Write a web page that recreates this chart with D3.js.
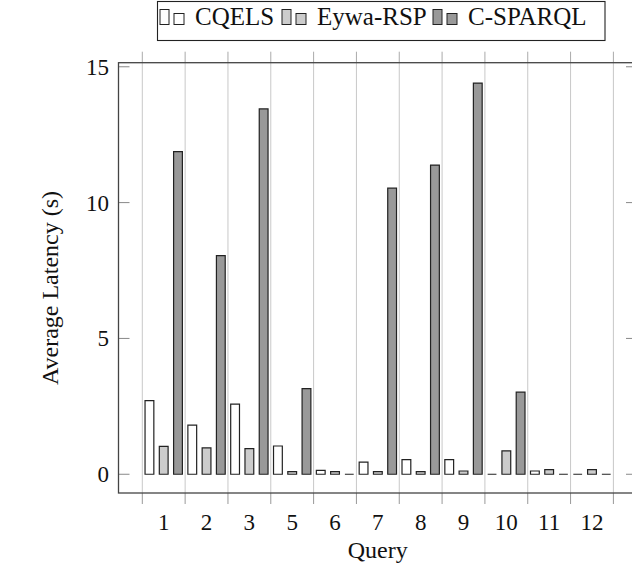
<!DOCTYPE html>
<html>
<head>
<meta charset="utf-8">
<script src="https://cdn.jsdelivr.net/npm/d3@7"></script>
<style>
  html, body { margin: 0; padding: 0; background: #fff; }
  svg { display: block; }
  text { font-family: "Liberation Serif", "Times New Roman", serif; fill: #111; }
</style>
</head>
<body>
<svg id="chart" width="632" height="571"></svg>
<script>
// Query identifiers along the x axis
const queries = ["1", "2", "3", "5", "6", "7", "8", "9", "10", "11", "12"];
// Average latency in seconds for each engine
const cqels   = [2.71, 1.81, 2.58, 1.04, 0.14, 0.45, 0.54, 0.54, 0.00, 0.12, 0.00];
const eywa    = [1.03, 0.97, 0.94, 0.10, 0.10, 0.10, 0.10, 0.12, 0.86, 0.17, 0.17];
const csparql = [11.88, 8.05, 13.45, 3.15, 0.00, 10.53, 11.38, 14.40, 3.02, 0.00, 0.00];
const seriesNames = ["CQELS", "Eywa-RSP", "C-SPARQL"];
const seriesFills = ["#ffffff", "#cccccc", "#999999"];
const yTicks = [0, 5, 10, 15];

const series = [cqels, eywa, csparql];

const svg = d3.select("#chart");

// plot frame
const frameLeft = 118.5, frameRight = 637, frameTop = 62.7, frameBottom = 493;

const x = d3.scaleBand()
  .domain(queries)
  .range([142.3, 613.4])
  .paddingInner(0)
  .paddingOuter(0);

const sub = d3.scaleBand()
  .domain(seriesNames)
  .range([-x.bandwidth() / 2, x.bandwidth() / 2])
  .paddingInner(0.3)
  .paddingOuter(0.15);

const y = d3.scaleLinear()
  .domain([-0.69, 15.15])
  .range([frameBottom, frameTop]);

// vertical grid lines at the group boundaries
const boundaries = queries.map(q => x(q)).concat([x(queries[queries.length - 1]) + x.bandwidth()]);

svg.append("g")
  .selectAll("line")
  .data(boundaries)
  .join("line")
  .attr("x1", d => d).attr("x2", d => d)
  .attr("y1", frameTop).attr("y2", frameBottom)
  .attr("stroke", "#c8c8c8")
  .attr("stroke-width", 1);

// outward ticks on top and bottom
svg.append("g")
  .selectAll("line")
  .data(boundaries)
  .join("line")
  .attr("x1", d => d).attr("x2", d => d)
  .attr("y1", frameBottom).attr("y2", frameBottom + 11)
  .attr("stroke", "#999")
  .attr("stroke-width", 1);
svg.append("g")
  .selectAll("line")
  .data(boundaries)
  .join("line")
  .attr("x1", d => d).attr("x2", d => d)
  .attr("y1", frameTop - 11).attr("y2", frameTop)
  .attr("stroke", "#aaa")
  .attr("stroke-width", 1);

// y ticks, pointing inward on both sides
const yt = svg.append("g");
yt.selectAll("line.l")
  .data(yTicks)
  .join("line")
  .attr("class", "l")
  .attr("x1", frameLeft).attr("x2", frameLeft + 11)
  .attr("y1", d => y(d)).attr("y2", d => y(d))
  .attr("stroke", "#888").attr("stroke-width", 1);
yt.selectAll("line.r")
  .data(yTicks)
  .join("line")
  .attr("class", "r")
  .attr("x1", frameRight - 11).attr("x2", frameRight)
  .attr("y1", d => y(d)).attr("y2", d => y(d))
  .attr("stroke", "#888").attr("stroke-width", 1);

// bars (drawn as closed paths so zero-height bars still show their outline)
const groups = svg.append("g")
  .selectAll("g")
  .data(queries)
  .join("g")
  .attr("transform", q => `translate(${x(q) + x.bandwidth() / 2},0)`);

groups.selectAll("path")
  .data((q, i) => seriesNames.map((name, s) => ({ name, s, v: series[s][i] })))
  .join("path")
  .attr("d", d => {
    const x0 = sub(d.name) + 0.6, x1 = x0 + sub.bandwidth() - 1.2;
    const y0 = y(0), y1 = y(d.v);
    return `M${x0},${y0}V${y1}H${x1}V${y0}Z`;
  })
  .attr("fill", d => seriesFills[d.s])
  .attr("stroke", "#222")
  .attr("stroke-width", 1.2);

// axis frame
svg.append("rect")
  .attr("x", frameLeft).attr("y", frameTop)
  .attr("width", frameRight - frameLeft).attr("height", frameBottom - frameTop)
  .attr("fill", "none")
  .attr("stroke", "#444")
  .attr("stroke-width", 1.3);

// tick labels
svg.append("g")
  .selectAll("text")
  .data(yTicks)
  .join("text")
  .attr("x", 109)
  .attr("y", d => y(d))
  .attr("dy", "0.35em")
  .attr("text-anchor", "end")
  .attr("font-size", 23)
  .text(d => d);

svg.append("g")
  .selectAll("text")
  .data(queries)
  .join("text")
  .attr("x", q => x(q) + x.bandwidth() / 2)
  .attr("y", 529.5)
  .attr("text-anchor", "middle")
  .attr("font-size", 23)
  .text(q => q);

// axis titles
svg.append("text")
  .attr("x", (frameLeft + frameRight) / 2)
  .attr("y", 558)
  .attr("text-anchor", "middle")
  .attr("font-size", 24)
  .text("Query");

svg.append("text")
  .attr("transform", "translate(58,288) rotate(-90)")
  .attr("text-anchor", "middle")
  .attr("font-size", 24)
  .text("Average Latency (s)");

// legend
const legend = svg.append("g");
legend.append("rect")
  .attr("x", 157.5).attr("y", 1.5)
  .attr("width", 447.5).attr("height", 39)
  .attr("fill", "#fff")
  .attr("stroke", "#222")
  .attr("stroke-width", 1.1);

const legendX = [160, 282, 433];
const entries = legend.selectAll("g")
  .data(seriesNames)
  .join("g")
  .attr("transform", (d, i) => `translate(${legendX[i]},0)`);

entries.append("rect")
  .attr("x", 0).attr("y", 9.5).attr("width", 9).attr("height", 15)
  .attr("fill", (d, i) => seriesFills[i])
  .attr("stroke", "#222").attr("stroke-width", 1);
entries.append("rect")
  .attr("x", 14).attr("y", 13.5).attr("width", 10).attr("height", 11)
  .attr("fill", (d, i) => seriesFills[i])
  .attr("stroke", "#222").attr("stroke-width", 1);
entries.append("text")
  .attr("x", 35)
  .attr("y", 24.5)
  .attr("font-size", 25)
  .text(d => d);
</script>
</body>
</html>
